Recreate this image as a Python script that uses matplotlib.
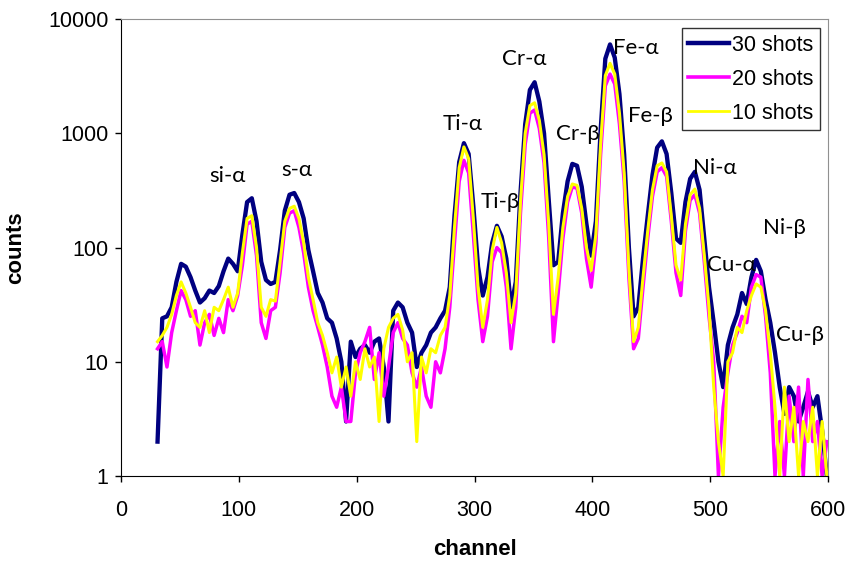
import matplotlib
matplotlib.use("Agg")
import matplotlib.pyplot as plt
from matplotlib.ticker import FixedLocator, FixedFormatter

# canaux (un point tous les 4 canaux)
canaux = list(range(31, 600, 4))

# 30 tirs
coups30 = [2, 24, 25, 30, 50, 72, 68, 55, 42, 33,
           36, 42, 40, 46, 62, 80, 72, 62, 130, 250,
           270, 170, 75, 52, 48, 50, 95, 210, 290, 300,
           250, 180, 95, 62, 40, 33, 24, 22, 16, 10,
           3, 15, 11, 13, 14, 12, 15, 16, 9, 3,
           28, 33, 30, 22, 18, 9, 12, 14, 18, 20,
           24, 28, 45, 190, 560, 820, 660, 230, 68, 38,
           55, 110, 155, 125, 80, 30, 50, 300, 1200, 2400,
           2800, 1900, 1000, 260, 70, 75, 200, 380, 540, 520,
           340, 160, 85, 170, 1050, 4500, 6000, 4600, 2200, 650,
           100, 25, 30, 80, 190, 430, 750, 850, 660, 300,
           120, 110, 250, 400, 460, 320, 120, 45, 22, 10,
           6, 14, 20, 26, 40, 32, 55, 78, 62, 35,
           22, 12, 6, 3.5, 6, 5, 3, 4, 5.5, 4,
           5, 2.5, 1]

# 20 tirs
coups20 = [13, 15, 9, 18, 28, 42, 35, 25, 28, 14,
           22, 26, 17, 24, 18, 35, 28, 38, 70, 160,
           170, 85, 22, 16, 28, 30, 60, 150, 200, 210,
           150, 90, 45, 28, 20, 14, 9, 5, 4, 6,
           3, 3, 8, 12, 15, 20, 7, 12, 5, 9,
           18, 22, 16, 14, 8, 6, 9, 5, 4, 10,
           8, 13, 30, 110, 380, 580, 450, 130, 35, 15,
           25, 75, 100, 90, 45, 13, 30, 200, 800, 1500,
           1600, 1100, 550, 120, 15, 40, 120, 250, 340, 330,
           200, 80, 45, 110, 650, 2600, 3300, 2700, 1200, 380,
           55, 13, 16, 45, 120, 280, 460, 500, 420, 170,
           60, 38, 140, 260, 290, 200, 75, 25, 10, 1,
           4, 8, 14, 18, 25, 22, 45, 58, 55, 25,
           8, 1, 3, 1, 5, 2, 6, 1, 7, 2,
           3, 1, 2]

# 10 tirs
coups10 = [15, 17, 20, 26, 38, 50, 40, 30, 22, 20,
           28, 18, 30, 28, 35, 45, 30, 40, 90, 180,
           190, 100, 30, 25, 35, 34, 75, 170, 220, 230,
           180, 110, 55, 35, 22, 17, 12, 8, 11, 6,
           9, 5, 10, 7, 13, 9, 11, 3, 13, 20,
           24, 26, 19, 10, 12, 2, 11, 8, 13, 12,
           17, 20, 38, 150, 500, 760, 600, 180, 45, 20,
           35, 95, 150, 110, 60, 22, 40, 250, 1000, 1750,
           1850, 1300, 650, 160, 26, 55, 150, 280, 360, 350,
           220, 100, 63, 130, 800, 3200, 4100, 3300, 1500, 450,
           65, 15, 20, 55, 140, 320, 520, 550, 460, 190,
           70, 52, 160, 290, 325, 220, 85, 30, 6, 2,
           1, 10, 12, 20, 18, 28, 38, 48, 45, 28,
           12, 4, 1, 6, 2, 4, 1, 3, 2, 4,
           1, 3, 1]

# noms des raies et leur emplacement (canal, coups)
raies = ["si-\u03b1", "s-\u03b1", "Ti-\u03b1", "Ti-\u03b2", "Cr-\u03b1", "Cr-\u03b2",
         "Fe-\u03b1", "Fe-\u03b2", "Ni-\u03b1", "Ni-\u03b2", "Cu-\u03b1", "Cu-\u03b2"]
raiesX = [90, 149, 290, 322, 342, 388, 437, 449, 504, 563, 518, 576]
raiesY = [420, 480, 1200, 250, 4500, 990, 5600, 1430, 500, 148, 70, 17]

fig = plt.figure(figsize=(8.51, 5.61), dpi=100)
ax = fig.add_axes([0.1422, 0.1515, 0.8308, 0.8145])

ax.plot(canaux, coups30, color="#000080", lw=3.1, label="30 shots")
ax.plot(canaux, coups20, color="#FF00FF", lw=2.5, label="20 shots")
ax.plot(canaux, coups10, color="#FFFF00", lw=2.2, label="10 shots")

ax.set_yscale("log")
ax.set_xlim(0, 600)
ax.set_ylim(1, 10000)
ax.yaxis.set_major_locator(FixedLocator([1, 10, 100, 1000, 10000]))
ax.yaxis.set_major_formatter(FixedFormatter(["1", "10", "100", "1000", "10000"]))
ax.yaxis.set_minor_locator(FixedLocator([]))
ax.set_xticks([0, 100, 200, 300, 400, 500, 600])

ax.tick_params(direction="out", length=4, width=1, labelsize=15.5, colors="black")
ax.tick_params(axis="x", pad=13)
ax.tick_params(axis="y", pad=5)
for lab in ax.get_xticklabels() + ax.get_yticklabels():
    lab.set_fontfamily("Liberation Sans")

ax.spines["left"].set_color("black")
ax.spines["bottom"].set_color("black")
ax.spines["top"].set_color("#909090")
ax.spines["right"].set_color("#909090")

ax.set_xlabel("channel", fontsize=16, fontweight="bold", family="Liberation Sans", labelpad=13)
ax.set_ylabel("counts", fontsize=16, fontweight="bold", family="Liberation Sans", labelpad=16)

for i in range(len(raies)):
    ax.text(raiesX[i], raiesY[i], raies[i], fontsize=16, family="Lato",
            ha="center", va="center", color="black")

leg = ax.legend(loc="upper right", bbox_to_anchor=(0.9887, 0.980), fancybox=False,
                frameon=True, edgecolor="black", prop={"family": "Liberation Sans", "size": 15.5},
                handlelength=1.9, handletextpad=0.15, borderpad=0.3, labelspacing=0.6,
                borderaxespad=0)
leg.get_frame().set_linewidth(1.0)
largeurs = [3.2, 2.6, 2.0]
for l, w in zip(leg.get_lines(), largeurs):
    l.set_linewidth(w)

fig.savefig("out.png", dpi=100)
